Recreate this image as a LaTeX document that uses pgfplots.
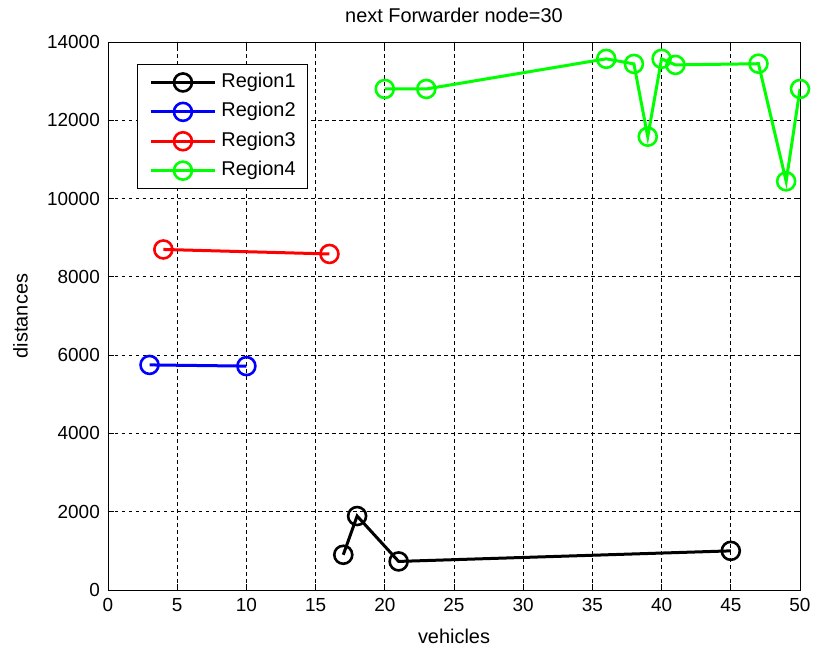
\documentclass[border=0pt]{standalone}
\usepackage{pgfplots}
\pgfplotsset{compat=1.18}
\usepackage{fontspec}
\setmainfont{Liberation Sans}
\begin{document}
\begin{tikzpicture}
\useasboundingbox (-108bp,-60bp) rectangle (708bp,590bp);
\begin{axis}[
  at={(0,0)}, anchor=south west,
  scale only axis, width=692bp, height=548bp,
  xmin=0, xmax=50, ymin=0, ymax=14000,
  xtick={0,5,...,50}, ytick={0,2000,...,14000},
  scaled y ticks=false,
  /pgf/number format/.cd, assume math mode=true, set thousands separator={}, 1000 sep={},
  /pgfplots/.cd,
  tick align=inside, tick pos=both,
  major tick length=6bp,
  every tick/.style={black, line width=0.9bp},
  axis line style={line width=0.9bp},
  grid=major,
  major grid style={black, line width=0.9bp, dash pattern=on 3.5bp off 3.5bp},
  tick label style={font=\fontsize{19}{22}\selectfont, black, inner sep=0pt},
  xticklabel style={yshift=-8bp},
  yticklabel style={xshift=-8bp},
  xlabel={vehicles}, ylabel={distances},
  label style={font=\fontsize{20}{24}\selectfont, inner sep=0pt},
  xlabel style={at={(axis description cs:0.5,0)}, anchor=base, yshift=-53bp},
  ylabel style={at={(axis description cs:0,0.5)}, anchor=south, yshift=80bp},
  title={next Forwarder node=30},
  title style={font=\fontsize{20}{24}\selectfont, at={(axis description cs:0.5,1)}, anchor=base, inner sep=0pt, yshift=14bp},
  legend style={at={(29bp,526bp)}, anchor=north west, draw=black, line width=0.9bp,
    font=\fontsize{20}{24}\selectfont, inner xsep=12bp, inner ysep=9bp,
    nodes={inner sep=0pt, text height=14bp, text depth=4bp},
    row sep=11.4bp, column sep=5bp, cells={anchor=west}},
  legend cell align=left,
  legend image code/.code={\draw[mark repeat=2,mark phase=2] plot coordinates {(0bp,0bp)(32bp,0bp)(64bp,0bp)};},
  every axis plot/.append style={line width=3bp, mark=o, mark size=9bp, mark options={solid, line width=2.6bp}},
]
\addplot[black] coordinates {(17,900)(18,1890)(21,730)(45,1000)};
\addlegendentry{Region1}
\addplot[blue] coordinates {(3,5750)(10,5720)};
\addlegendentry{Region2}
\addplot[red] coordinates {(4,8700)(16,8585)};
\addlegendentry{Region3}
\addplot[green] coordinates {(20,12800)(23,12800)(36,13570)(38,13440)(39,11580)(40,13570)(41,13415)(47,13445)(49,10440)(50,12800)};
\addlegendentry{Region4}
\end{axis}
\end{tikzpicture}
\end{document}
